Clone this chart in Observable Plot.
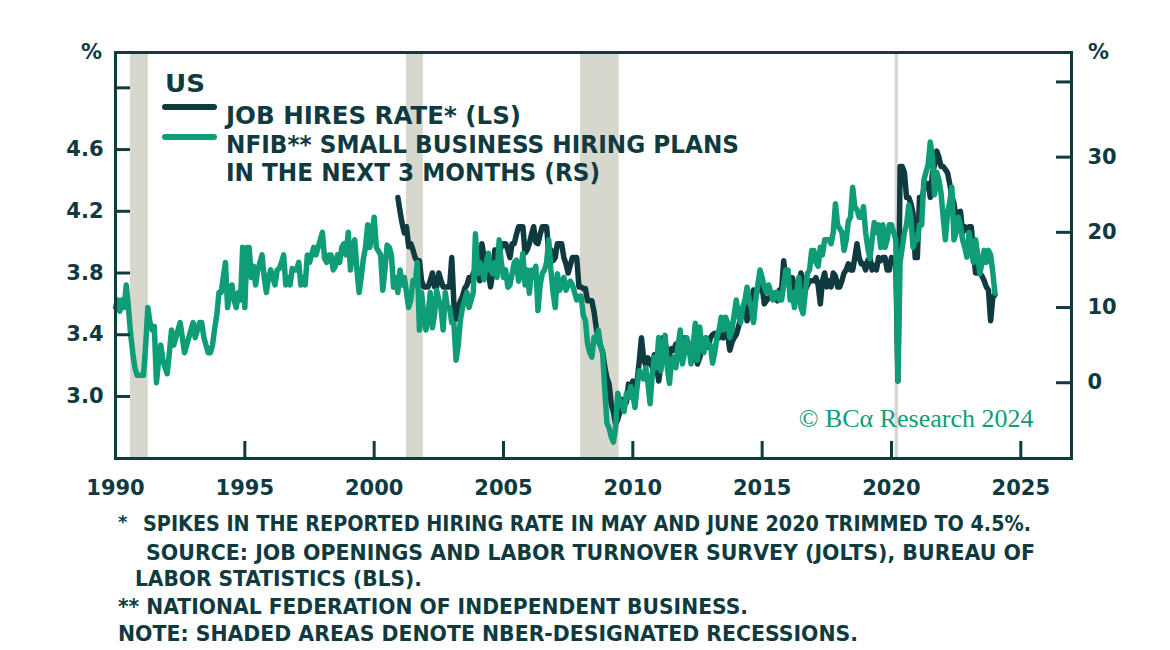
<!DOCTYPE html>
<html><head><meta charset="utf-8">
<script src="https://cdn.jsdelivr.net/npm/d3@7"></script>
<script src="https://cdn.jsdelivr.net/npm/@observablehq/plot@0.6"></script>
<style>
body{margin:0;background:#fff;}
#wrap{position:relative;width:1170px;height:650px;overflow:hidden;}
#wrap svg{display:block;}
#overlay{position:absolute;left:0;top:0;pointer-events:none;}
</style></head><body><div id="wrap"></div>
<script>
// ---------- DATA ----------
// NFIB small business hiring plans (net %, RS), monthly from Jan 1990
const nfib1990s = [
  10, 11, 9.5, 11, 10, 13, 10, 6.5, 4, 2, 1, 1,
  1, 1, 5, 10, 8, 7, 7.5, 0, 3, 5, 3, 2,
  1.2, 4, 7, 5, 6, 7, 8, 6, 4, 5, 6, 7,
  8, 6, 7, 8, 8, 6, 5, 4, 4, 5, 7.2, 9,
  12, 12, 14, 16, 10, 12, 13, 11, 10, 12, 11, 18,
  10, 18, 18, 14, 15.5, 13, 15, 16, 17, 14, 12, 14,
  15, 14, 13, 15, 15.2, 16, 17, 13, 14, 13, 15.2, 15,
  15, 16, 13, 14, 13, 17, 16, 17, 18, 17, 18, 19,
  20, 16.5, 16, 17, 17, 15, 15.5, 17, 16, 18, 18.5, 17,
  20, 15, 18, 19, 15, 12, 14, 16.5, 18, 21, 18, 20
];
const nfib2000s = [
  22, 18, 17.5, 17, 12.3, 15, 18.3, 18, 17, 12.7, 14, 12,
  15, 13, 14, 12, 10, 11, 13.6, 13, 16, 7, 12, 9,
  7, 9, 12, 7.3, 9, 12.3, 11, 10, 7, 12, 10, 10,
  8, 7.9, 3, 5, 8.3, 10, 11, 12, 10, 11, 12, 19.8,
  14.5, 16, 15, 13.7, 16, 17.2, 15, 14.5, 16, 14, 19, 16,
  14, 15, 12.7, 13, 14.5, 16, 16.3, 13.5, 15, 17.2, 13, 15,
  11.9, 15, 14, 15.5, 9.6, 13, 14.5, 15, 16, 19, 15, 12,
  10, 14.5, 12.3, 13, 14, 12.3, 13, 13.5, 13, 12, 11, 11.5,
  11.5, 9, 8.3, 5.2, 4, 3.4, 6, 5.5, 7, 5, 3.9, -1,
  -5.4, -6, -7.2, -7.9, -6, -1.4, -2.5, -3, -3.8, -1.4, -2, -0.5
];
const nfib2010s = [
  -1.5, -3.3, -0.5, 1.6, 1, 0.5, 2, 0, -2.8, 1, 3.4, 2,
  6, 1.6, 4, 6.3, 2, -0.1, 3, 3.4, 2, 5, 7, 2.5,
  4, 6, 5, 2.5, 5, 7.9, 3, 7.4, 5, 4, 6, 5,
  5, 2.6, 4, 6, 7, 8.7, 7, 8.7, 8, 6, 7, 9,
  11, 9, 8, 10, 11, 12.7, 11, 10, 8, 11, 13, 15,
  14, 12.7, 12, 13, 12, 11, 12, 12, 11, 11, 13, 15,
  15, 11, 12, 10, 12, 14, 10, 9.2, 12, 14.5, 15, 17.6,
  17.6, 16, 15.5, 18, 17, 19, 19, 19, 18.5, 20, 23.8, 21,
  20.5, 20, 17.6, 19, 21.5, 22, 26, 23.4, 23, 22, 22, 23.4,
  20, 18, 16.5, 19, 21.3, 20, 21, 18, 21, 18, 19, 21
];
const nfib2020s = [
  21, 20, 19, 0.3, 16, 18, 20, 21, 23.6, 22, 18, 19,
  19, 21, 21, 26.9, 28, 29, 32, 30, 25, 28, 27, 25.2,
  22, 19, 22.5, 24, 26, 19, 20, 22, 21, 19, 18, 16.7,
  20, 18, 16, 19, 17, 14.5, 16, 17.6, 16, 17.6, 17, 14.7,
  11.9
];
// JOLTS job hires rate (%, LS), monthly from Dec 2000
const hires2000s = [
  4.29,
  4.2, 4.12, 4.06, 4.1, 3.97, 3.99, 3.95, 3.9, 3.88, 3.88, 3.75, 3.71,
  3.71, 3.71, 3.75, 3.8, 3.71, 3.71, 3.8, 3.75, 3.71, 3.71, 3.71, 3.71,
  3.9, 3.6, 3.5, 3.58, 3.62, 3.65, 3.7, 3.72, 3.77, 3.75, 3.8, 3.8,
  3.8, 3.75, 3.99, 3.9, 3.85, 3.8, 3.71, 3.8, 3.95, 3.9, 3.93, 3.97,
  3.99, 3.99, 3.95, 3.9, 3.99, 3.99, 4.05, 4.1, 4.1, 4.1, 3.93, 3.95,
  3.99, 4.05, 4.1, 4.0, 3.99, 4.05, 4.1, 4.1, 4.1, 3.93, 3.95, 3.88,
  3.9, 3.99, 3.99, 3.99, 3.9, 3.86, 3.8, 3.85, 3.9, 3.9, 3.9, 3.71,
  3.71, 3.7, 3.7, 3.62, 3.62, 3.62, 3.55, 3.45, 3.36, 3.33, 3.29, 3.19,
  3.12, 3.08, 2.95, 2.9, 2.82, 2.85, 2.9, 2.98, 2.96, 2.96, 3.08, 3.05
];
const hires2010s = [
  3.1, 3.04, 3.1, 3.23, 3.38, 3.25, 3.2, 3.25, 3.22, 3.19, 3.27, 3.2,
  3.1, 3.2, 3.38, 3.34, 3.3, 3.27, 3.31, 3.3, 3.34, 3.3, 3.32, 3.34,
  3.38, 3.3, 3.34, 3.25, 3.3, 3.28, 3.21, 3.25, 3.3, 3.3, 3.35, 3.32,
  3.38, 3.4, 3.41, 3.4, 3.38, 3.4, 3.38, 3.45, 3.4, 3.3, 3.35, 3.38,
  3.4, 3.45, 3.51, 3.55, 3.6, 3.49, 3.55, 3.6, 3.69, 3.65, 3.7, 3.71,
  3.71, 3.6, 3.62, 3.64, 3.64, 3.66, 3.64, 3.62, 3.69, 3.69, 3.88, 3.75,
  3.73, 3.77, 3.77, 3.7, 3.62, 3.71, 3.8, 3.75, 3.69, 3.72, 3.75, 3.75,
  3.75, 3.77, 3.72, 3.6, 3.75, 3.8, 3.71, 3.75, 3.71, 3.8, 3.78, 3.71,
  3.71, 3.75, 3.8, 3.82, 3.86, 3.82, 3.82, 3.9, 3.99, 3.9, 3.86, 3.86,
  3.82, 3.88, 3.9, 3.82, 3.85, 3.82, 3.9, 3.88, 3.9, 3.9, 3.82, 3.82
];
const hires2020s = [
  3.9, 3.88, 3.88, 3.1, 4.49, 4.49, 4.45, 4.29, 4.29, 4.25, 4.19, 3.9,
  3.9, 4.29, 4.25, 4.35, 4.38, 4.38, 4.29, 4.45, 4.5, 4.59, 4.55, 4.49,
  4.49, 4.47, 4.45, 4.38, 4.3, 4.25, 4.15, 4.19, 4.2, 4.06, 4.1, 4.08,
  4.1, 4.1, 3.95, 3.8, 3.8, 3.8, 3.78, 3.75, 3.71, 3.69, 3.49, 3.64,
  3.66
];
// NBER recessions (decimal years)
const recessionStart = [1990.58, 2001.25, 2007.98, 2020.14];
const recessionEnd   = [1991.27, 2001.9, 2009.47, 2020.27];
// axes
const leftTicks = [3.0, 3.4, 3.8, 4.2, 4.6, 5.0];
const leftLabels = [3.0, 3.4, 3.8, 4.2, 4.6];
const rightTicks = [0, 10, 20, 30, 40];
const rightLabels = [0, 10, 20, 30];
const yearTicks = [1990, 1995, 2000, 2005, 2010, 2015, 2020, 2025];
const legendTitle = "US";
const seriesNames = ["JOB HIRES RATE* (LS)", "NFIB** SMALL BUSINESS HIRING PLANS", "IN THE NEXT 3 MONTHS (RS)"];
const footnotes = [
  "SPIKES IN THE REPORTED HIRING RATE IN MAY AND JUNE 2020 TRIMMED TO 4.5%.",
  "SOURCE: JOB OPENINGS AND LABOR TURNOVER SURVEY (JOLTS), BUREAU OF",
  "LABOR STATISTICS (BLS).",
  "** NATIONAL FEDERATION OF INDEPENDENT BUSINESS.",
  "NOTE: SHADED AREAS DENOTE NBER-DESIGNATED RECESSIONS."
];
const credit = "© BCα Research 2024";

// ---------- BUILD ----------
const DARK = "#0f3a40", GREEN = "#0f9d77", SHADE = "#d7d7cd";
const A = 3.089, B = 0.04873;           // right-axis value -> left-axis units
const toLeft = v => A + B * v;
const nfib = [...nfib1990s, ...nfib2000s, ...nfib2010s, ...nfib2020s].map((v, i) => ({x: 1990 + i / 12, v}));
const hires = [...hires2000s, ...hires2010s, ...hires2020s].map((v, i) => ({x: 2000 + 11 / 12 + i / 12, v}));
const recessions = recessionStart.map((s, i) => ({start: s, end: recessionEnd[i]}));

const W = 1170, H = 515, mT = 52, mR = 99, mB = 57, mL = 115;
const frameW = W - mL - mR, frameH = H - mT - mB;
const axisText = {fontSize: 21, fontWeight: "bold", fill: DARK};

const chart = Plot.plot({
  width: W, height: H, marginTop: mT, marginRight: mR, marginBottom: mB, marginLeft: mL,
  style: {fontFamily: "DejaVu Sans", color: DARK, background: "transparent", overflow: "visible"},
  x: {domain: [1990, 2026.96]},
  y: {domain: [2.598, 5.229]},
  marks: [
    Plot.rect(recessions, {x1: "start", x2: "end", fill: SHADE}),
    Plot.line(hires, {x: "x", y: "v", stroke: DARK, strokeWidth: 5.5, strokeLinejoin: "round"}),
    Plot.line(nfib, {x: "x", y: d => toLeft(d.v), stroke: GREEN, strokeWidth: 5.5, strokeLinejoin: "round"}),
    Plot.tickY(leftTicks, {y: d => d, stroke: DARK, strokeWidth: 3, insetRight: frameW - 15}),
    Plot.tickY(rightTicks, {y: d => toLeft(d), stroke: DARK, strokeWidth: 3, insetLeft: frameW - 15}),
    Plot.tickX(yearTicks, {x: d => d, stroke: DARK, strokeWidth: 3, insetTop: frameH - 17}),
    Plot.frame({stroke: DARK, strokeWidth: 3}),
    Plot.axisY(leftLabels, {anchor: "left", tickSize: 0, tickPadding: 12, tickFormat: d3.format(".1f"), label: null, ...axisText}),
    Plot.axisY(rightLabels.map(toLeft), {anchor: "right", tickSize: 0, tickPadding: 16, tickFormat: d => String(Math.round((d - A) / B)), label: null, ...axisText}),
    Plot.axisX(yearTicks, {anchor: "bottom", tickSize: 0, tickPadding: 22, tickFormat: d => String(d), label: null, ...axisText}),
    Plot.text(["%"], {frameAnchor: "top-left", dx: -24, textAnchor: "middle", lineAnchor: "middle", ...axisText}),
    Plot.text(["%"], {frameAnchor: "top-right", dx: 27, textAnchor: "middle", lineAnchor: "middle", ...axisText}),
    Plot.text([credit], {frameAnchor: "bottom-right", dx: -38, dy: -40, textAnchor: "end", lineAnchor: "middle",
      fill: GREEN, fontFamily: "Liberation Serif", fontSize: 26})
  ]
});
const wrap = document.getElementById("wrap");
wrap.appendChild(chart);

// legend + footnotes overlay
const ov = d3.select(wrap).append("svg").attr("id", "overlay").attr("width", 1170).attr("height", 650)
  .style("font-family", "DejaVu Sans").style("font-weight", "bold").style("fill", DARK);
ov.append("text").attr("x", 165).attr("y", 92).attr("font-size", 25).attr("textLength", 40).attr("lengthAdjust", "spacingAndGlyphs").text(legendTitle);
ov.append("line").attr("x1", 165).attr("x2", 214).attr("y1", 107).attr("y2", 107).attr("stroke", DARK).attr("stroke-width", 6).attr("stroke-linecap", "round");
ov.append("line").attr("x1", 165).attr("x2", 214).attr("y1", 137).attr("y2", 137).attr("stroke", GREEN).attr("stroke-width", 6).attr("stroke-linecap", "round");
const legY = [124, 153, 181], legLen = [295, 513, 374];
seriesNames.forEach((t, i) => ov.append("text").attr("x", 226).attr("y", legY[i]).attr("font-size", 24)
  .attr("textLength", legLen[i]).attr("lengthAdjust", "spacingAndGlyphs").text(t));
const fnX = [143, 146, 135, 118, 118], fnY = [531, 560, 586, 614, 641], fnLen = [888, 889, 287, 630, 740];
ov.append("text").attr("x", 118).attr("y", 528).attr("font-size", 18).text("*");
footnotes.forEach((t, i) => ov.append("text").attr("x", fnX[i]).attr("y", fnY[i]).attr("font-size", 21)
  .attr("textLength", fnLen[i]).attr("lengthAdjust", "spacingAndGlyphs").text(t));
</script>
</body></html>
